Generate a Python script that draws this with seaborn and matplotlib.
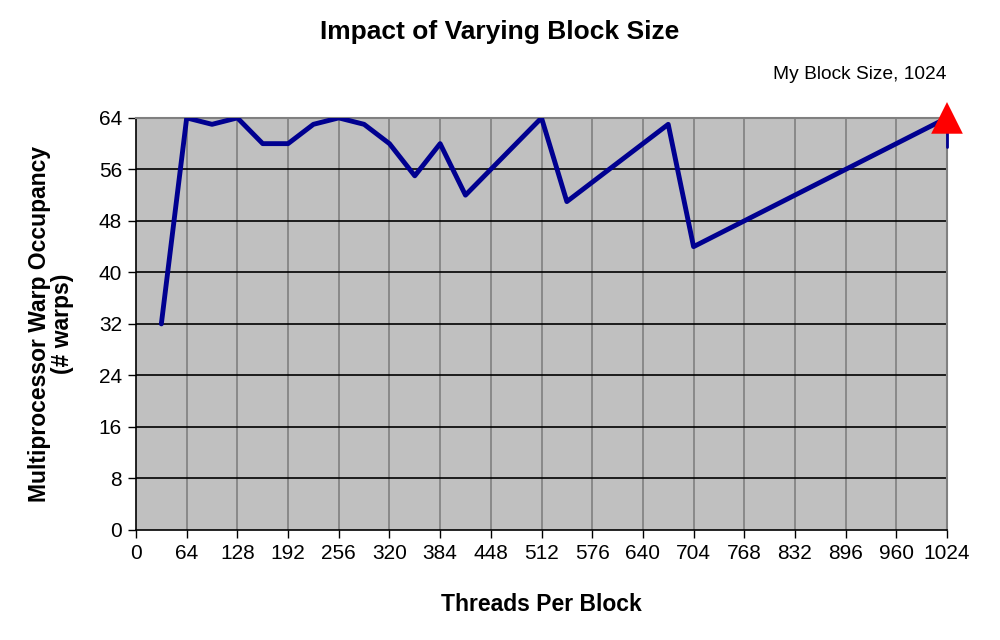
import matplotlib
matplotlib.use("Agg")
import matplotlib.pyplot as plt
import seaborn as sns
import pandas as pd

threads = [32, 64, 96, 128, 160, 192, 224, 256, 288, 320, 352, 384, 416, 448, 480, 512,
           544, 576, 608, 640, 672, 704, 736, 768, 800, 832, 864, 896, 928, 960, 992, 1024]
warps = [32, 64, 63, 64, 60, 60, 63, 64, 63, 60, 55, 60, 52, 56, 60, 64,
         51, 54, 57, 60, 63, 44, 46, 48, 50, 52, 54, 56, 58, 60, 62, 64]
my_block_x = [1024]
my_block_y = [64]
drop_x = [1024, 1024]
drop_y = [64, 59.5]
x_ticks = list(range(0, 1025, 64))
y_ticks = list(range(0, 65, 8))

sns.set_theme(style="white")
plt.rcParams['font.family'] = ['Liberation Sans', 'DejaVu Sans']
plt.rcParams['text.color'] = 'black'
plt.rcParams['axes.labelcolor'] = 'black'

fig = plt.figure(figsize=(10, 6.4), dpi=100)
ax = fig.add_axes([0.136, 0.172, 0.811, 0.6438])
ax.set_facecolor('#C0C0C0')

df = pd.DataFrame({'threads': threads, 'warps': warps})
sns.lineplot(data=df, x='threads', y='warps', ax=ax, color='#000090', linewidth=3.5, zorder=3)
ax.plot(drop_x, drop_y, color='#000090', linewidth=2, zorder=3, clip_on=False)
sns.scatterplot(x=my_block_x, y=my_block_y, ax=ax, marker='^', s=520, color='#FF0000',
                edgecolor='none', zorder=5, clip_on=False)

ax.set_xlim(0, 1024)
ax.set_ylim(0, 64)
ax.set_xticks(x_ticks)
ax.set_yticks(y_ticks)
ax.set_xticklabels([str(t) for t in x_ticks], fontsize=15)
ax.set_yticklabels([str(t) for t in y_ticks], fontsize=15)

for t in x_ticks[1:-1]:
    ax.axvline(t, color='#808080', linewidth=1.2, zorder=1)
for t in y_ticks[1:]:
    ax.axhline(t, color='black', linewidth=1.2, zorder=1)

for side in ['top', 'right']:
    ax.spines[side].set_color('#808080')
    ax.spines[side].set_linewidth(1.5)
for side in ['left', 'bottom']:
    ax.spines[side].set_color('black')
    ax.spines[side].set_linewidth(1.2)

ax.tick_params(axis='both', which='major', direction='out', length=6, width=1,
               color='black', labelcolor='black', bottom=True, left=True, pad=4)

ax.set_xlabel('Threads Per Block', fontsize=16.5, fontweight='bold', labelpad=22)
ax.set_ylabel('Multiprocessor Warp Occupancy\n(# warps)', fontsize=16.5, fontweight='bold',
              labelpad=18, linespacing=1.0)

fig.text(0.5, 0.95, 'Impact of Varying Block Size', ha='center', va='center',
         fontsize=19, fontweight='bold')
fig.text(0.946, 0.883, 'My Block Size, 1024', ha='right', va='center', fontsize=13.8)

fig.savefig('out.png', dpi=100)
